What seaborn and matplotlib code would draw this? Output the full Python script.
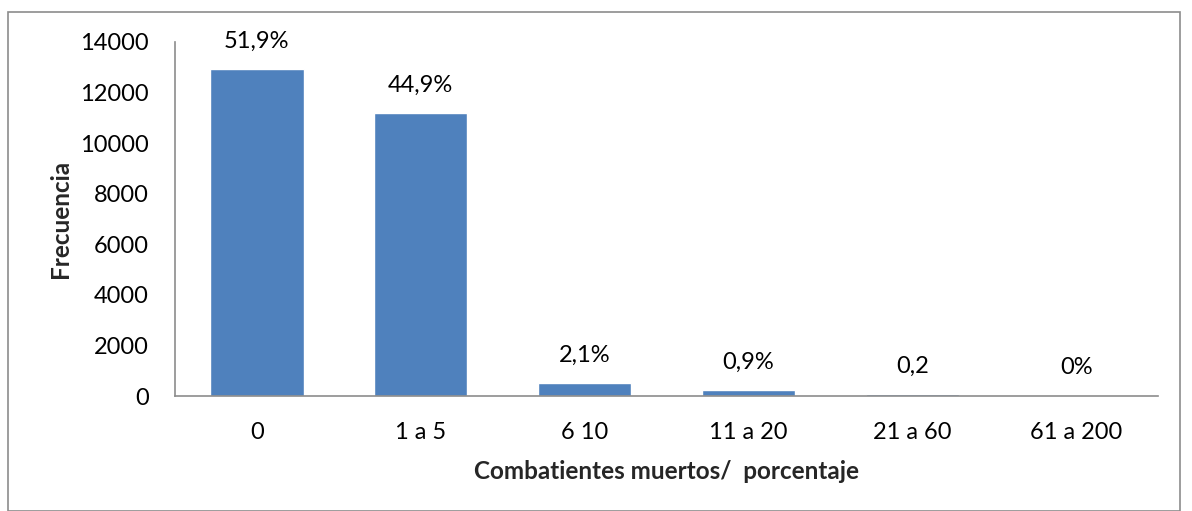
import seaborn as sns
import matplotlib.pyplot as plt
import pandas as pd
from matplotlib.patches import Rectangle

categorias = ['0', '1 a 5', '6 10', '11 a 20', '21 a 60', '61 a 200']
frecuencia = [12930, 11190, 520, 240, 80, 10]
porcentajes = ['51,9%', '44,9%', '2,1%', '0,9%', '0,2', '0%']

df = pd.DataFrame({'cat': categorias, 'frec': frecuencia})

sns.set_style('white')
plt.rcParams['font.family'] = ['Lato', 'DejaVu Sans']

fig = plt.figure(figsize=(11.92, 5.11), dpi=100)
ax = fig.add_axes([0.1468, 0.225, 0.8247, 0.693])

sns.barplot(data=df, x='cat', y='frec', color='#4f81bd', saturation=1, width=0.57, ax=ax)

for i, (v, txt) in enumerate(zip(frecuencia, porcentajes)):
    ax.annotate(txt, (i, v), xytext=(0, 20), textcoords='offset points',
                ha='center', va='center', fontsize=17, color='black')

ax.set_ylim(0, 14000)
ax.set_xlim(-0.5, 5.5)
ax.set_yticks(range(0, 14001, 2000))
ax.tick_params(axis='both', length=0, labelsize=17, colors='black')
ax.tick_params(axis='x', pad=19)
ax.tick_params(axis='y', pad=19)
ax.set_xlabel('Combatientes muertos/  porcentaje', fontsize=17.5, fontweight='bold', labelpad=12)
ax.set_ylabel('Frecuencia', fontsize=17.5, fontweight='bold', labelpad=6)

for s in ['top', 'right']:
    ax.spines[s].set_visible(False)
for s in ['left', 'bottom']:
    ax.spines[s].set_color('#8c8c8c')
    ax.spines[s].set_linewidth(1.2)

fig.patches.append(Rectangle((8 / 1192, 0), 1172 / 1192, 499 / 511, transform=fig.transFigure,
                             fill=False, edgecolor='#8c8c8c', linewidth=1.2))

fig.savefig('out.png', dpi=100)
